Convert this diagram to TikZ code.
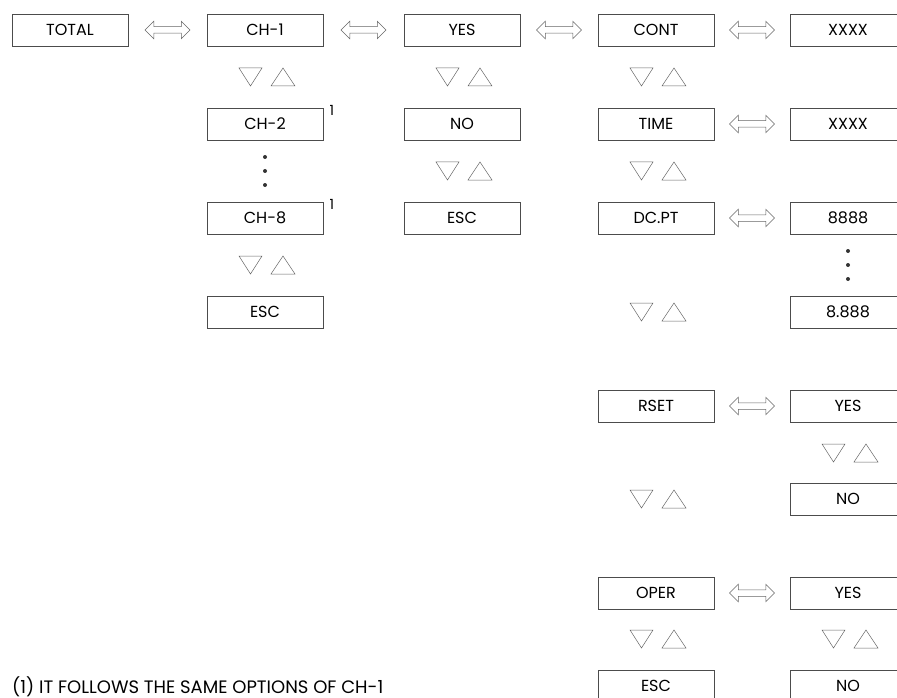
\documentclass[tikz,border=0pt]{standalone}
\usepackage{fontspec}
\setmainfont{Poppins}
\usetikzlibrary{shapes.arrows,calc}

\begin{document}
\begin{tikzpicture}[
    x=1pt, y=-1pt,
    menu/.style={draw=black!70, line width=0.7pt, minimum width=116pt, minimum height=32pt, inner sep=0pt, font=\fontsize{16}{18}\selectfont},
    dblarrow/.style={double arrow, draw=black!60, line width=0.5pt, minimum height=45pt, minimum width=17pt, double arrow head extend=5.5pt, inner xsep=0pt, inner ysep=3pt},
    tri/.style={draw=black!60, line width=0.5pt},
]
    \useasboundingbox (0,0) rectangle (897,698);

    % Menu boxes
    \node[menu] (total) at (70,30) {TOTAL};
    \node[menu] (ch1) at (265,30) {CH-1};
    \node[menu] (yes1) at (462,30) {YES};
    \node[menu] (cont) at (656,30) {CONT};
    \node[menu] (xxxa) at (848,30) {XXXX};

    \node[menu] (ch2) at (265,124) {CH-2};
    \node[menu] (no1) at (462,124) {NO};
    \node[menu] (time) at (656,124) {TIME};
    \node[menu] (xxxb) at (848,124) {XXXX};

    \node[menu] (ch8) at (265,218) {CH-8};
    \node[menu] (esc1) at (462,218) {ESC};
    \node[menu] (dcpt) at (656,218) {DC.PT};
    \node[menu] (dmax) at (848,218) {8888};

    \node[menu] (esc0) at (265,312) {ESC};
    \node[menu] (dmin) at (848,312) {8.888};

    \node[menu] (rset) at (656,406) {RSET};
    \node[menu] (yes2) at (848,406) {YES};
    \node[menu] (no2) at (848,499) {NO};

    \node[menu] (oper) at (656,593) {OPER};
    \node[menu] (yes3) at (848,593) {YES};
    \node[menu] (esc2) at (656,686) {ESC};
    \node[menu] (no3) at (848,686) {NO};

    % Left/right keys
    \foreach \a/\b in {total/ch1, ch1/yes1, yes1/cont, cont/xxxa, time/xxxb, dcpt/dmax, rset/yes2, oper/yes3}
        \node[dblarrow] at ($(\a.east)!0.5!(\b.west)$) {};

    % Down/up keys
    \foreach \x/\y in {265/77, 265/265, 462/77, 462/171, 656/77, 656/171, 656/312, 656/499, 656/639, 848/453, 848/639} {
        \draw[tri] (\x-26,\y-9) -- (\x-3,\y-9) -- (\x-14.5,\y+9) -- cycle;
        \draw[tri] (\x+6,\y+9) -- (\x+30,\y+9) -- (\x+18,\y-9) -- cycle;
    }

    % Skipped entries
    \foreach \d in {-14,0,14} {
        \fill[black!80] ($(ch2)!0.5!(ch8)+(0,\d)$) circle (2pt);
        \fill[black!80] ($(dmax)!0.5!(dmin)+(0,\d)$) circle (2pt);
    }

    % Footnote marks
    \node[anchor=west, inner sep=0pt, font=\fontsize{14}{16}\selectfont] (fn2) at ($(ch2.north east)+(6,3)$) {1};
    \node[anchor=west, inner sep=0pt, font=\fontsize{14}{16}\selectfont] (fn8) at ($(ch8.north east)+(6,3)$) {1};

    \node[anchor=base west, inner sep=0pt, font=\fontsize{18}{20}\selectfont] (note) at (12,693) {(1) IT FOLLOWS THE SAME OPTIONS OF CH-1};
\end{tikzpicture}
\end{document}
